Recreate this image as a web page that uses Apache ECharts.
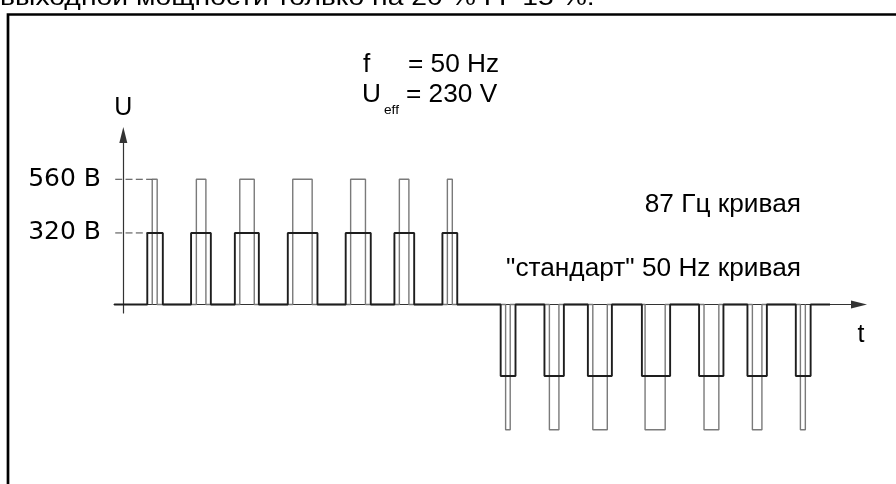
<!DOCTYPE html>
<html>
<head>
<meta charset="utf-8">
<script src="https://cdn.jsdelivr.net/npm/echarts@6/dist/echarts.min.js"></script>
<style>
  html, body { margin: 0; padding: 0; background: #fff; }
  #chart { width: 896px; height: 484px; }
</style>
</head>
<body>
<div id="chart"></div>
<script>
// Time in ms (one 50 Hz period), voltage in V.
const stdLevel = 320;   // "standard" 50 Hz curve pulse height
const hiLevel = 560;    // 87 Hz curve pulse height
const tickValues = [320, 560];

// Pulse edges [rise, fall] for the positive and negative half-waves
const stdPos = [[0.68, 1.12], [1.92, 2.48], [3.16, 3.84], [4.66, 5.50], [6.30, 7.01], [7.68, 8.24], [9.04, 9.46]];
const stdNeg = [[10.69, 11.11], [11.93, 12.48], [13.16, 13.84], [14.69, 15.49], [16.31, 17.00], [17.68, 18.23], [19.05, 19.47]];
const hiPos = [[0.82, 0.96], [2.07, 2.34], [3.30, 3.71], [4.80, 5.35], [6.44, 6.86], [7.82, 8.09], [9.18, 9.32]];
const hiNeg = [[10.83, 10.96], [12.07, 12.34], [13.30, 13.71], [14.78, 15.35], [16.45, 16.87], [17.82, 18.09], [19.18, 19.32]];

const traceSpan = [-0.26, 20.02];  // where the 50 Hz trace starts/ends on the time axis
const guideStart = -0.52;          // left end of the dashed level guides

const FONT = "Arial, 'Liberation Sans', sans-serif";
const WIDE_FONT = "'DejaVu Sans', sans-serif";
const STRETCH = 1.05;

function pulseTrain(pos, neg, amp, span) {
  const pts = [[span[0], 0]];
  pos.forEach(([a, b]) => { pts.push([a, 0], [a, amp], [b, amp], [b, 0]); });
  neg.forEach(([a, b]) => { pts.push([a, 0], [a, -amp], [b, -amp], [b, 0]); });
  pts.push([span[1], 0]);
  return pts;
}

const hiTrace = pulseTrain(hiPos, hiNeg, hiLevel, [hiPos[0][0], hiNeg[hiNeg.length - 1][1]]);
const stdTrace = pulseTrain(stdPos, stdNeg, stdLevel, traceSpan);
const guideHi = [[guideStart, hiLevel], [hiPos[0][0], hiLevel]];
const guideStd = [[guideStart, stdLevel], [stdPos[0][0], stdLevel]];

function label(text, x, y, size, align, stretch) {
  return {
    type: 'text', x: x, y: y, scaleX: stretch || STRETCH, silent: true,
    style: {
      text: text, font: size + 'px ' + FONT, fill: '#000',
      align: align, textAlign: align, verticalAlign: 'middle', textVerticalAlign: 'middle'
    }
  };
}

const chart = echarts.init(document.getElementById('chart'), null, { renderer: 'canvas' });

const axisLineStyle = { color: '#333', width: 1.2 };
const guideStyle = { color: '#444', width: 1, type: [7, 3.3] };

chart.setOption({
  animation: false,
  backgroundColor: '#fff',
  grid: { left: 114, right: 37, top: 135, bottom: 171 },
  xAxis: {
    type: 'value', min: -0.263, max: 20.84,
    axisLine: { show: true, onZero: true, symbol: ['none', 'triangle'], symbolSize: [8, 16], lineStyle: axisLineStyle },
    axisTick: { show: false }, axisLabel: { show: false }, splitLine: { show: false },
    name: 't', nameLocation: 'end', nameGap: 2,
    nameTextStyle: { fontSize: 25, fontFamily: FONT, color: '#000', align: 'center', verticalAlign: 'top', padding: [18, 0, 0, 0] }
  },
  yAxis: {
    type: 'value', min: -38, max: 758,
    axisLine: { show: true, onZero: true, symbol: ['none', 'triangle'], symbolSize: [8, 16], lineStyle: axisLineStyle },
    axisTick: { show: false }, splitLine: { show: false },
    axisLabel: { customValues: tickValues, formatter: '{value} B', margin: 13, fontSize: 25, fontFamily: WIDE_FONT, color: '#000' },
    name: 'U', nameLocation: 'end', nameGap: 14,
    nameTextStyle: { fontSize: 25, fontFamily: FONT, color: '#000', align: 'center' }
  },
  series: [
    { type: 'line', data: guideHi, symbol: 'none', clip: false, silent: true, lineStyle: guideStyle },
    { type: 'line', data: guideStd, symbol: 'none', clip: false, silent: true, lineStyle: guideStyle },
    { type: 'line', name: '87 Гц кривая', data: hiTrace, symbol: 'none', clip: false, silent: true,
      lineStyle: { color: '#7a7a7a', width: 1.4 }, z: 2 },
    { type: 'line', name: '"стандарт" 50 Hz кривая', data: stdTrace, symbol: 'none', clip: false, silent: true,
      lineStyle: { color: '#1e1e1e', width: 1.9 }, z: 3 }
  ],
  graphic: [
    { type: 'rect', silent: true, shape: { x: 8, y: 14.5, width: 920, height: 520 },
      style: { fill: 'none', stroke: '#000', lineWidth: 2.7 } },
    label('выходной мощности только на 20 % ГГ 15 %.', 0, -1.5, 24, 'left', 1.18),
    label('f', 363, 65, 25, 'left'),
    label('= 50 Hz', 408, 65, 25, 'left'),
    label('U', 362, 95, 25, 'left'),
    label('eff', 384, 110, 13, 'left'),
    label('= 230 V', 406, 95, 25, 'left'),
    label('87 Гц кривая', 801, 205, 25, 'right'),
    label('"стандарт" 50 Hz кривая', 801, 269, 25, 'right')
  ]
});
</script>
</body>
</html>
